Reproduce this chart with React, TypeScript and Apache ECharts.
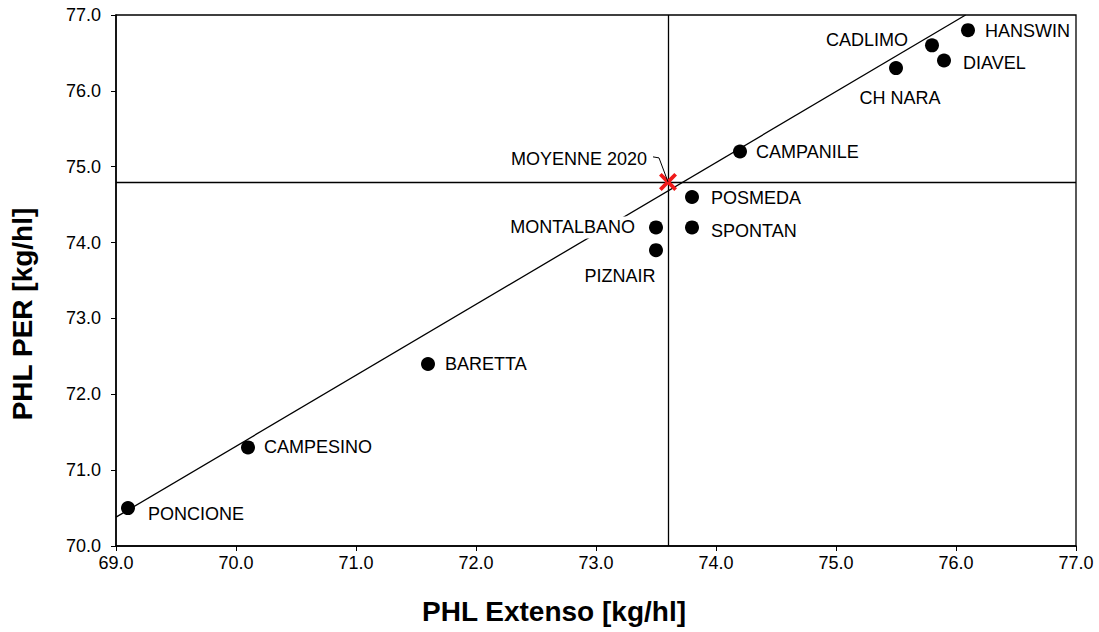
import React, { useEffect, useRef } from "react";
import * as echarts from "echarts";

const varieties = ["HANSWIN", "CADLIMO", "DIAVEL", "CH NARA", "CAMPANILE", "POSMEDA", "SPONTAN", "MONTALBANO", "PIZNAIR", "BARETTA", "CAMPESINO", "PONCIONE"];
const extensoValues = [76.1, 75.8, 75.9, 75.5, 74.2, 73.8, 73.8, 73.5, 73.5, 71.6, 70.1, 69.1];
const perValues = [76.8, 76.6, 76.4, 76.3, 75.2, 74.6, 74.2, 74.2, 73.9, 72.4, 71.3, 70.5];
const meanLabel = "MOYENNE 2020";
const meanExtenso = 73.6;
const meanPer = 74.8;
const trendX = [69.0, 76.08];
const trendY = [70.38, 77.0];
const xTicks = [69, 70, 71, 72, 73, 74, 75, 76, 77];
const yTicks = [70, 71, 72, 73, 74, 75, 76, 77];
const xTitle = "PHL Extenso [kg/hl]";
const yTitle = "PHL PER [kg/hl]";

// label placement per variety (style only)
const labelPlacement: Record<string, any> = {
  HANSWIN: { position: "right", distance: 9, offset: [0, 1] },
  CADLIMO: { position: "left", distance: 16, offset: [0, -5] },
  DIAVEL: { position: "right", distance: 11, offset: [0, 2] },
  "CH NARA": { position: "bottom", distance: 12, offset: [4, 0] },
  CAMPANILE: { position: "right", distance: 8, offset: [0, 0] },
  POSMEDA: { position: "right", distance: 11, offset: [0, 1] },
  SPONTAN: { position: "right", distance: 11, offset: [0, 4] },
  MONTALBANO: { position: "left", distance: 13, offset: [0, 0], backgroundColor: "#fff" },
  PIZNAIR: { position: "bottom", distance: 8, offset: [-36, 0] },
  BARETTA: { position: "right", distance: 9, offset: [0, 0] },
  CAMPESINO: { position: "right", distance: 8, offset: [0, 0] },
  PONCIONE: { position: "right", distance: 12, offset: [0, 6] },
};

const FONT = "'Liberation Sans', Arial, sans-serif";

export default function App() {
  const ref = useRef<HTMLDivElement>(null);
  useEffect(() => {
    if (!ref.current) return;
    const chart = echarts.init(ref.current, null, { renderer: "svg" });
    const points = varieties.map((name, i) => ({
      name,
      value: [extensoValues[i], perValues[i]],
      label: {
        show: true,
        formatter: name,
        color: "#000",
        fontSize: 18,
        fontFamily: FONT,
        padding: [2, 1],
        ...labelPlacement[name],
      },
    }));
    const option: any = {
      animation: false,
      backgroundColor: "#fff",
      grid: {
        left: 116,
        top: 15,
        right: 23,
        bottom: 86,
        show: true,
        borderColor: "#000",
        borderWidth: 1.3,
        backgroundColor: "transparent",
      },
      xAxis: {
        type: "value",
        min: xTicks[0],
        max: xTicks[xTicks.length - 1],
        interval: 1,
        axisLine: { show: true, lineStyle: { color: "#000", width: 1.5 } },
        axisTick: { show: true, length: 5, lineStyle: { color: "#000", width: 1 } },
        axisLabel: { fontSize: 18, fontFamily: FONT, color: "#000", margin: 8, formatter: (v: number) => v.toFixed(1) },
        splitLine: { show: false },
      },
      yAxis: {
        type: "value",
        min: yTicks[0],
        max: yTicks[yTicks.length - 1],
        interval: 1,
        axisLine: { show: true, lineStyle: { color: "#000", width: 1.5 } },
        axisTick: { show: true, length: 5, lineStyle: { color: "#000", width: 1 } },
        axisLabel: { fontSize: 18, fontFamily: FONT, color: "#000", margin: 15, formatter: (v: number) => v.toFixed(1) },
        splitLine: { show: false },
      },
      graphic: [
        {
          type: "text",
          x: 554,
          y: 611,
          style: { text: xTitle, fontSize: 28, fontWeight: "bold", fontFamily: FONT, fill: "#000", align: "center", verticalAlign: "middle" },
        },
        {
          type: "text",
          x: 22,
          y: 314,
          rotation: Math.PI / 2,
          style: { text: yTitle, fontSize: 28, fontWeight: "bold", fontFamily: FONT, fill: "#000", align: "center", verticalAlign: "middle" },
        },
      ],
      series: [
        {
          type: "line",
          z: 2,
          data: trendX.map((x, i) => [x, trendY[i]]),
          showSymbol: false,
          symbol: "none",
          lineStyle: { color: "#000", width: 1.3 },
          silent: true,
        },
        {
          type: "scatter",
          z: 3,
          data: [],
          silent: true,
          markLine: {
            silent: true,
            symbol: "none",
            label: { show: false },
            lineStyle: { color: "#000", width: 1.3, type: "solid" },
            data: [{ xAxis: meanExtenso }, { yAxis: meanPer }],
          },
        },
        {
          type: "scatter",
          z: 5,
          symbol: "circle",
          symbolSize: 14,
          itemStyle: { color: "#000", opacity: 1 },
          data: points,
        },
        {
          type: "scatter",
          z: 6,
          symbol: "path://M1.5,0 L5,3.5 L8.5,0 L10,1.5 L6.5,5 L10,8.5 L8.5,10 L5,6.5 L1.5,10 L0,8.5 L3.5,5 L0,1.5 Z",
          symbolSize: 18,
          itemStyle: { color: "#f01a1a", opacity: 1 },
          data: [
            {
              name: meanLabel,
              value: [meanExtenso, meanPer],
              label: {
                show: true,
                formatter: meanLabel,
                position: "left",
                distance: 5,
                offset: [-7, -23],
                color: "#000",
                fontSize: 18,
                fontFamily: FONT,
              },
            },
          ],
        },
      ],
    };
    chart.setOption(option);
    const p = chart.convertToPixel({ gridIndex: 0 }, [meanExtenso, meanPer]) as number[];
    chart.setOption({
      graphic: [
        {},
        {},
        {
          type: "polyline",
          z: 10,
          shape: { points: [[p[0] - 15, p[1] - 25], [p[0] - 9, p[1] - 24], [p[0], p[1]]] },
          style: { stroke: "#000", lineWidth: 1, fill: null },
        },
      ],
    });
    return () => chart.dispose();
  }, []);
  return <div ref={ref} style={{ position: "absolute", left: 0, top: 0, width: 1099, height: 632 }} />;
}
